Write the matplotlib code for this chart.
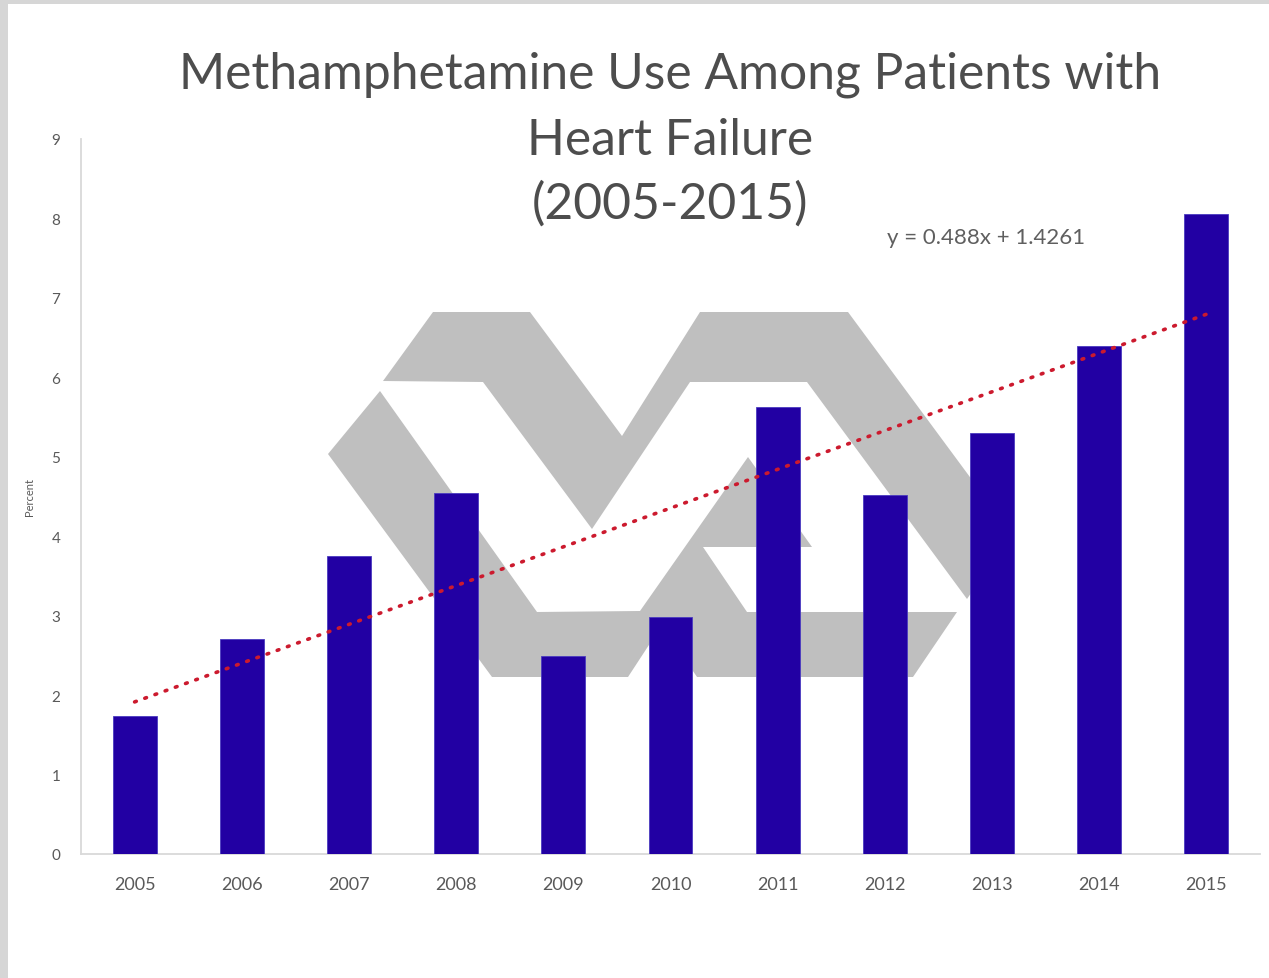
import matplotlib
matplotlib.use("Agg")
import matplotlib.pyplot as plt
from matplotlib.patches import Polygon, Rectangle
from matplotlib.transforms import Affine2D
import numpy as np

# ---- data ----
years = ["2005", "2006", "2007", "2008", "2009", "2010", "2011", "2012", "2013", "2014", "2015"]
percent = [1.74, 2.71, 3.75, 4.55, 2.49, 2.98, 5.63, 4.52, 5.30, 6.39, 8.05]
trend_slope = 0.488
trend_intercept = 1.4261
y_ticks = [0, 1, 2, 3, 4, 5, 6, 7, 8, 9]
title_lines = ["Methamphetamine Use Among Patients with", "Heart Failure", "(2005-2015)"]
equation = "y = 0.488x + 1.4261"

W, H = 1269, 979
fig = plt.figure(figsize=(W / 100, H / 100), dpi=100)
fig.patch.set_facecolor("white")

# pixel -> figure transform (y measured from top)
px = Affine2D().scale(1 / W, -1 / H).translate(0, 1) + fig.transFigure

# light grey frame strips
fig.patches.append(Rectangle((0, 0), 8, H, transform=px, facecolor="#d6d6d6", edgecolor="none", zorder=0))
fig.patches.append(Rectangle((0, 0), W, 5, transform=px, facecolor="#d6d6d6", edgecolor="none", zorder=0))

ax = fig.add_axes([81 / W, 1 - 855 / H, (1260 - 81) / W, (855 - 140) / H])
ax.set_facecolor("none")

x = np.arange(len(years))
ax.bar(x, percent, width=0.41, color="#2200A3", edgecolor="#4a3ac0", linewidth=0.6, zorder=3)

# linear trendline
xt = np.arange(1, len(years) + 1)
yt = trend_slope * xt + trend_intercept
ax.plot(x, yt, color="#CC1a2e", lw=2.6, linestyle=(0, (0.5, 2.5)),
        dash_capstyle="round", zorder=4)

# VA logo watermark (decorative), in pixel coordinates
logo_color = "#bfbfbf"
upper = [(433, 313), (530, 313), (622, 437), (700, 313), (848, 313), (1012, 535),
         (967, 600), (807, 383), (690, 383), (592, 530), (483, 383), (383, 382)]
lower = [(380, 392), (537, 613), (640, 612), (748, 458), (812, 548), (703, 548),
         (747, 613), (957, 613), (913, 678), (697, 678), (662, 626), (628, 678),
         (492, 678), (328, 455)]
for poly in (upper, lower):
    p = Polygon(poly, closed=True, transform=px, facecolor=logo_color,
                edgecolor="none", zorder=1, clip_on=False)
    ax.add_patch(p)

ax.set_xlim(-0.5, len(years) - 0.5)
ax.set_ylim(0, 9)
ax.set_yticks(y_ticks)
ax.set_yticklabels([str(t) for t in y_ticks])
ax.set_xticks(x)
ax.set_xticklabels(years)

for s in ("top", "right"):
    ax.spines[s].set_visible(False)
for s in ("left", "bottom"):
    ax.spines[s].set_color("#d9d9d9")
    ax.spines[s].set_linewidth(1.3)
ax.tick_params(axis="both", length=0, colors="#595959")
ax.tick_params(axis="y", pad=15, labelsize=11)
ax.tick_params(axis="x", pad=16, labelsize=13)
for lab in ax.get_xticklabels() + ax.get_yticklabels():
    lab.set_fontfamily("Lato")

ax.set_ylabel("Percent", fontsize=8, color="#595959", family="Lato")
ax.yaxis.set_label_coords(-(81 - 35) / 1179, 0.5)

# title lines
baselines = [89, 155, 219]
for line, b in zip(title_lines, baselines):
    fig.text(670 / W, 1 - b / H, line, ha="center", va="baseline",
             fontsize=35.8, color="#4d4d4d", family="Lato")

ax.text(887 / W, 1 - 238 / H, equation, transform=fig.transFigure, ha="left",
        va="center", fontsize=16, color="#5f5f5f", family="Lato", zorder=5)

fig.savefig("out.png", dpi=100, facecolor="white")
